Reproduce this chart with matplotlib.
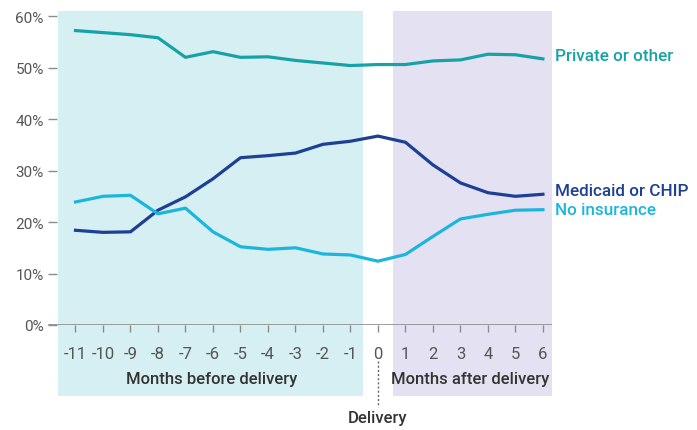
import numpy as np
import matplotlib.pyplot as plt
import matplotlib.transforms as mtransforms

plt.rcParams['font.family'] = ['Roboto', 'DejaVu Sans']

months = list(range(-11, 7))
private = [57.2, 56.8, 56.4, 55.8, 52.0, 53.1, 52.0, 52.1, 51.4, 50.9, 50.4,
           50.6, 50.6, 51.3, 51.5, 52.6, 52.5, 51.7]
medicaid = [18.4, 18.0, 18.1, 22.3, 24.9, 28.4, 32.5, 32.9, 33.4, 35.1, 35.7,
            36.7, 35.5, 31.1, 27.6, 25.7, 25.0, 25.4]
uninsured = [23.9, 25.0, 25.2, 21.6, 22.7, 18.1, 15.2, 14.7, 15.0, 13.8, 13.6,
             12.4, 13.7, 17.2, 20.6, 21.5, 22.3, 22.4]
yticks = [0, 10, 20, 30, 40, 50, 60]

c_private = '#17a3a6'
c_medicaid = '#1d3f94'
c_unins = '#1cb6dc'
txt = '#333333'
grey = '#8c8c8c'

fig = plt.figure(figsize=(6.97, 4.31), dpi=100)
ax = fig.add_axes([48/697, 105/431, 504/697, 314/431])
ax.set_xlim(-12.0, 6.33)
ax.set_ylim(0, 61)

# shaded periods, reaching down under the tick labels
ax.axvspan(-11.62, -0.55, ymin=-0.226, ymax=1, color='#d5eff3', lw=0, clip_on=False, zorder=0)
ax.axvspan(0.55, 6.33, ymin=-0.226, ymax=1, color='#e4e2f2', lw=0, clip_on=False, zorder=0)

ax.axhline(0, color=grey, lw=1.2, zorder=1)

ax.plot(months, private, color=c_private, lw=2.3, zorder=3)
ax.plot(months, medicaid, color=c_medicaid, lw=2.3, zorder=3)
ax.plot(months, uninsured, color=c_unins, lw=2.3, zorder=3)

for s in ax.spines.values():
    s.set_visible(False)

ax.set_yticks(yticks)
ax.set_yticklabels([f'{v}%' for v in yticks])
ax.tick_params(axis='y', direction='in', length=6.5, width=1, color=grey,
               labelsize=11, labelcolor='#555555', pad=3)
ax.set_xticks(months)
ax.set_xticklabels([str(m) for m in months])
ax.tick_params(axis='x', direction='out', length=5, width=1, color=grey,
               labelsize=12, labelcolor='#555555', pad=10)

trans = mtransforms.blended_transform_factory(ax.transData, ax.transAxes)
ax.text(-6.04, -0.169, 'Months before delivery', transform=trans, ha='center', va='center',
        fontsize=12, color=txt, weight='medium')
ax.text(3.35, -0.169, 'Months after delivery', transform=trans, ha='center', va='center',
        fontsize=12, color=txt, weight='medium')
ax.plot([0, 0], [-0.115, -0.262], transform=trans, color='#666666', lw=1,
        ls=(0, (1.5, 1.5)), clip_on=False)
ax.text(0, -0.293, 'Delivery', transform=trans, ha='center', va='center',
        fontsize=12, color=txt, weight='medium')

ax.text(6.44, 52.4, 'Private or other', color=c_private, fontsize=12.3, va='center',
        ha='left', weight='medium')
ax.text(6.44, 26.2, 'Medicaid or CHIP', color=c_medicaid, fontsize=12.3, va='center',
        ha='left', weight='medium')
ax.text(6.44, 22.5, 'No insurance', color=c_unins, fontsize=12.3, va='center',
        ha='left', weight='medium')

fig.savefig('out.png', dpi=100)
